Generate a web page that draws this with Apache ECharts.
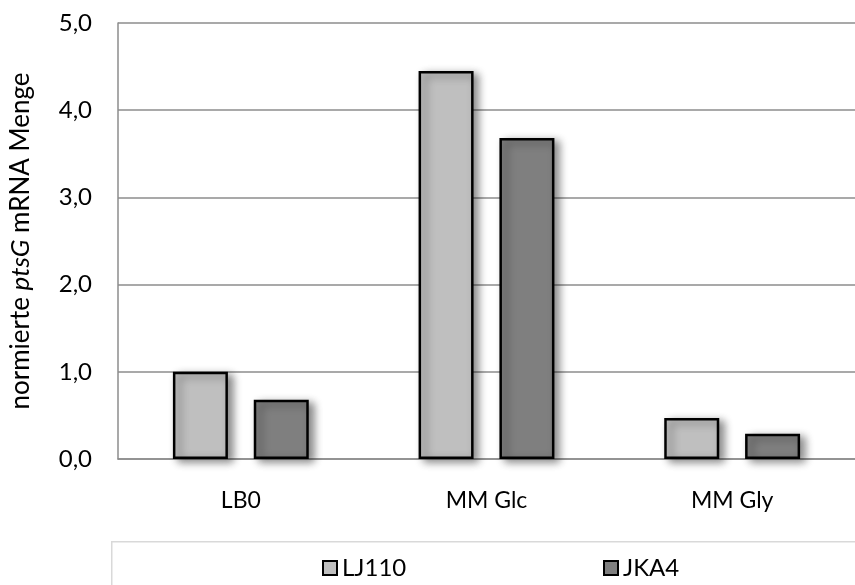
<!DOCTYPE html>
<html>
<head>
<meta charset="utf-8">
<title>ptsG mRNA</title>
<script src="https://cdn.jsdelivr.net/npm/echarts@6/dist/echarts.min.js"></script>
<style>
  html, body { margin: 0; padding: 0; background: #ffffff; }
  #chart { width: 855px; height: 585px; }
</style>
</head>
<body>
<div id="chart"></div>
<script>
// Conditions (categories) and normalised ptsG mRNA amounts per strain
const categories = ['LB0', 'MM Glc', 'MM Gly'];
const seriesNames = ['LJ110', 'JKA4'];
const lj110Values = [1.0, 4.45, 0.47];
const jka4Values = [0.68, 3.68, 0.29];
const yTickLabels = ['0,0', '1,0', '2,0', '3,0', '4,0', '5,0'];

const FONT = 'Lato, "Open Sans", sans-serif';
const GRID = '#8c8c8c';

const barStyle = (fill) => ({
  color: fill,
  borderColor: '#000000',
  borderWidth: 2.5,
  shadowColor: 'rgba(0,0,0,0.45)',
  shadowBlur: 8,
  shadowOffsetX: 5,
  shadowOffsetY: 3
});

const legendText = { fontFamily: FONT, fontSize: 24, color: '#000000' };

const chart = echarts.init(document.getElementById('chart'), null, { renderer: 'canvas' });

chart.setOption({
  animation: false,
  backgroundColor: '#ffffff',
  textStyle: { fontFamily: FONT },
  grid: { left: 114, top: 23, right: -11, bottom: 126, containLabel: false },
  graphic: [{
    type: 'rect',
    left: 111, top: 541,
    shape: { width: 800, height: 100 },
    style: { fill: '#ffffff', stroke: '#d9d9d9', lineWidth: 1.5 },
    z: -1
  }],
  // one legend block per strain so each sits at its own spot in the box
  legend: [
    {
      data: [seriesNames[0]], left: 317, top: 551,
      itemWidth: 14, itemHeight: 14, icon: 'rect', textStyle: legendText
    },
    {
      data: [seriesNames[1]], left: 598, top: 551,
      itemWidth: 14, itemHeight: 14, icon: 'rect', textStyle: legendText
    }
  ],
  xAxis: {
    type: 'category',
    data: categories,
    axisLine: { show: true, lineStyle: { color: GRID, width: 1.5 } },
    axisTick: { show: false },
    axisLabel: { fontFamily: FONT, fontSize: 23, color: '#000000', margin: 30 },
    splitLine: { show: false }
  },
  yAxis: {
    type: 'value',
    min: 0, max: 5, interval: 1,
    name: '{n|normierte }{i|ptsG}{n| mRNA Menge}',
    nameLocation: 'middle',
    nameRotate: 90,
    nameGap: 84,
    nameTextStyle: {
      rich: {
        n: { fontFamily: FONT, fontSize: 26, color: '#000000' },
        i: { fontFamily: FONT, fontSize: 26, color: '#000000', fontStyle: 'italic' }
      }
    },
    axisLine: { show: true, lineStyle: { color: GRID, width: 1.5 } },
    axisTick: { show: false },
    axisLabel: {
      fontFamily: FONT, fontSize: 24, color: '#000000', margin: 26,
      formatter: (v) => yTickLabels[Math.round(v)]
    },
    splitLine: { show: true, lineStyle: { color: GRID, width: 1.5 } }
  },
  series: [
    {
      name: seriesNames[0], type: 'bar', data: lj110Values,
      barWidth: 55, barGap: '47%',
      itemStyle: barStyle('#bfbfbf')
    },
    {
      name: seriesNames[1], type: 'bar', data: jka4Values,
      barWidth: 55, barGap: '47%',
      itemStyle: barStyle('#7f7f7f')
    }
  ]
});
</script>
</body>
</html>
